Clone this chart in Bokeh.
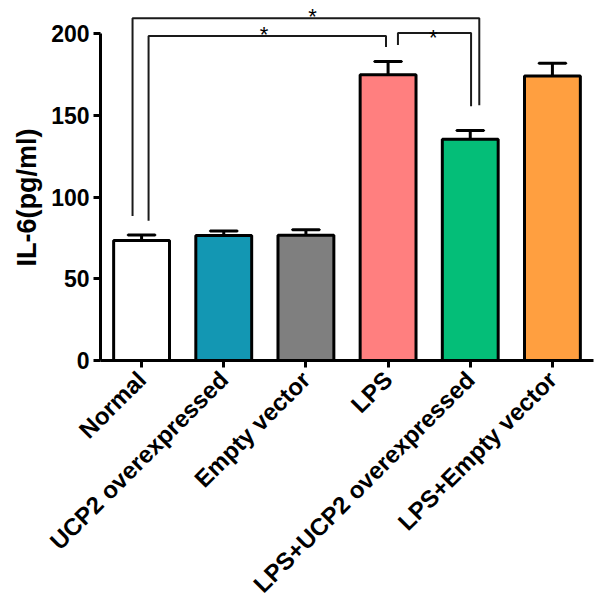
from bokeh.plotting import figure
from bokeh.models import ColumnDataSource, FactorRange, FixedTicker, Title
from bokeh.core.properties import value
from bokeh.embed import file_html
from bokeh.resources import INLINE

groups = ["Normal", "UCP2 overexpressed", "Empty vector", "LPS",
          "LPS+UCP2 overexpressed", "LPS+Empty vector"]
means = [73.5, 76.5, 76.7, 175.0, 135.5, 174.2]
errors = [3.3, 2.8, 3.3, 8.0, 5.3, 7.8]
colors = ["#FFFFFF", "#1397B3", "#7F7F7F", "#FF7F7F", "#04BE78", "#FF9F40"]
y_ticks = [0, 50, 100, 150, 200]
y_title = "IL-6(pg/ml)"

# significance brackets
brackets_x0 = [0.39, 0.585, 3.62]
brackets_x1 = [4.61, 3.475, 4.51]
brackets_y = [209.6, 198.6, 200.5]
brackets_yl = [88.5, 85.5, 193.2]
brackets_yr = [156.2, 192.0, 155.6]
stars_x = [2.58, 1.99, 4.05]
stars_y = [210.8, 199.6, 197.6]

FONT = "Liberation Sans"

p = figure(x_range=FactorRange(*groups, range_padding=0), y_range=(0, 220.4),
           width=598, height=612, output_backend="svg", toolbar_location=None,
           min_border_left=100, min_border_right=5, min_border_top=0,
           min_border_bottom=252)
p.outline_line_color = None
p.grid.visible = False
p.background_fill_color = "white"

src = ColumnDataSource(dict(g=groups, m=means, top=[m + e for m, e in zip(means, errors)],
                            c=colors))
p.vbar(x="g", top="m", bottom=0, width=0.68, fill_color="c", line_color="black",
       line_width=3, source=src)
p.segment(x0="g", x1="g", y0="m", y1="top", line_color="black", line_width=3, source=src)
p.rect(x="g", y="top", width=0.33, height=0.0001, line_color="black", line_width=3,
       source=src)

for x0, x1, y, yl, yr in zip(brackets_x0, brackets_x1, brackets_y, brackets_yl, brackets_yr):
    p.line(x=[x0, x0, x1, x1], y=[yl, y, y, yr], line_color="#1a1a1a", line_width=2)

p.text(x=stars_x, y=stars_y, text=["*"] * 3, text_font=value(FONT),
       text_font_size="22px", text_align="center", text_baseline="middle",
       text_color="black")

p.yaxis.ticker = FixedTicker(ticks=y_ticks)
p.yaxis.bounds = (0, 200)

p.add_layout(Title(text=y_title, align="left", offset=94, text_font=FONT,
                   text_font_style="bold", text_font_size="27px",
                   text_color="black", standoff=14), "left")

for ax in (p.xaxis[0], p.yaxis[0]):
    ax.axis_line_width = 3
    ax.axis_line_color = "black"
    ax.major_tick_line_width = 3
    ax.major_tick_line_color = "black"
    ax.major_tick_out = 7
    ax.major_tick_in = 0
    ax.minor_tick_line_color = None
    ax.major_label_text_font = FONT
    ax.major_label_text_font_style = "bold"
    ax.major_label_text_color = "black"

p.yaxis.major_label_text_font_size = "23px"
p.yaxis.major_label_standoff = 4
p.xaxis.major_label_text_font_size = "24px"
p.xaxis.major_label_orientation = 0.785398
p.xaxis.major_label_standoff = 8

open("out.html", "w").write(file_html(p, INLINE))
